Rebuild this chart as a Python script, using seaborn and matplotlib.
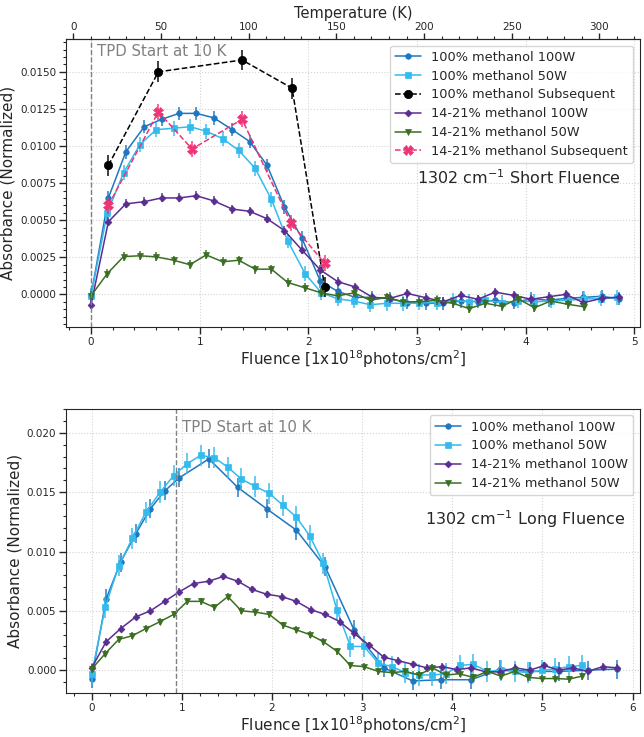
import numpy as np
import matplotlib
matplotlib.use("Agg")
import matplotlib.pyplot as plt
import seaborn as sns
from matplotlib.ticker import MultipleLocator, FixedLocator

# ---------------------------------------------------------------------------
# DATA
# ---------------------------------------------------------------------------
# fluence grids [1e18 photons/cm2]
fluence_100W = [0.00, 0.16, 0.32, 0.49, 0.65, 0.81, 0.97, 1.13, 1.30, 1.46,
                1.62, 1.78, 1.94, 2.11, 2.27, 2.43, 2.59, 2.75, 2.91, 3.08,
                3.24, 3.40, 3.56, 3.72, 3.89, 4.05, 4.21, 4.37, 4.53, 4.70,
                4.86, 5.02, 5.18, 5.34, 5.50, 5.67, 5.83]
fluence_50W = [0.00, 0.15, 0.30, 0.45, 0.60, 0.76, 0.91, 1.06, 1.21, 1.36,
               1.51, 1.66, 1.81, 1.97, 2.12, 2.27, 2.42, 2.57, 2.72, 2.87,
               3.02, 3.18, 3.33, 3.48, 3.63, 3.78, 3.93, 4.08, 4.23, 4.39,
               4.54, 4.69, 4.84, 4.99, 5.14, 5.29, 5.44]
fluence_long_100W = [0.00, 0.16, 0.32, 0.49, 0.65, 0.81, 0.97, 1.30, 1.62, 1.94,
                     2.27, 2.59, 2.91, 3.24, 3.56, 3.88, 4.21, 4.53, 4.86, 5.18,
                     5.50, 5.83]
temp_ticks = [0, 50, 100, 150, 200, 250, 300]

# --- short fluence ---
short_100_100W = [-0.0001, 0.0065, 0.0096, 0.0113, 0.0118, 0.0122, 0.0122, 0.0119,
                  0.0111, 0.0103, 0.0087, 0.0059, 0.0038, 0.0009, 0.0002, -0.0002,
                  -0.0002, -0.0003, -0.00055, -0.0006, -0.0006, -0.00045, -0.0005,
                  -0.0004, -0.00055, -0.0003, -0.0004, -0.00027, -0.0002, -0.00013,
                  -0.0003]
short_100_50W = [-0.0001, 0.0055, 0.0082, 0.0101, 0.0111, 0.0112, 0.0113, 0.0110,
                 0.0105, 0.0097, 0.0085, 0.0064, 0.0036, 0.0014, 0.0001, -0.0003,
                 -0.00045, -0.0007, -0.0006, -0.0006, -0.00058, -0.00055, -0.0004,
                 -0.0005, -0.0004, -0.00055, -0.00045, -0.0005, -0.00045, -0.0004,
                 -0.0003, -0.0003, -0.0002]
short_1421_100W = [-0.0007, 0.0049, 0.0061, 0.00625, 0.0065, 0.0065, 0.00665, 0.0063,
                   0.00575, 0.0056, 0.0051, 0.0043, 0.0030, 0.00165, 0.00086, 0.0005,
                   -0.0002, -0.00027, 0.00006, -0.00022, -0.0005, -0.00007, -0.00033,
                   0.00015, -0.00007, -0.00033, -0.00016, 0.0, -0.00056, -0.00027,
                   -0.00018]
short_1421_50W = [-0.0001, 0.0014, 0.00255, 0.0026, 0.00253, 0.0023, 0.0020, 0.00266,
                  0.0022, 0.0023, 0.0017, 0.0017, 0.0008, 0.00044, 0.0001, -0.0001,
                  0.0001, -0.0004, -0.0002, -0.0005, -0.0005, -0.0004, -0.0006,
                  -0.00096, -0.0006, -0.0008, -0.0003, -0.0009, -0.00045, -0.00067,
                  -0.00084]
subseq_100_x = [0.16, 0.62, 1.39, 1.85, 2.15]
subseq_100 = [0.0087, 0.0150, 0.0158, 0.0139, 0.0005]
subseq_1421_x = [0.16, 0.62, 0.93, 1.39, 1.84, 2.15]
subseq_1421 = [0.0060, 0.0123, 0.0098, 0.0118, 0.0048, 0.0021]

# --- long fluence ---
long_100_100W = [-0.0007, 0.0060, 0.0091, 0.0115, 0.0136, 0.0151, 0.0162, 0.0178,
                 0.0154, 0.0136, 0.0118, 0.0087, 0.0034, 0.0002, -0.0009, -0.0008,
                 -0.0008, 0.0001, -0.0001, -0.0001, 0.0, 0.0001]
long_100_50W = [-0.0003, 0.0053, 0.0088, 0.0111, 0.0133, 0.0150, 0.0164, 0.0174,
                0.0181, 0.0179, 0.0171, 0.0161, 0.0155, 0.0149, 0.0139, 0.0129,
                0.0113, 0.0090, 0.0051, 0.0020, 0.0020, 0.0006, 0.0003, -0.0002,
                -0.0004, -0.0004, -0.0003, 0.0004, 0.0005, -0.0001, 0.0, -0.0001,
                -0.0002, 0.0, 0.0001, 0.0003, 0.0004]
long_1421_100W = [0.0002, 0.0024, 0.0035, 0.0045, 0.0050, 0.0058, 0.0066, 0.0073,
                  0.0075, 0.0079, 0.0075, 0.0068, 0.0064, 0.0062, 0.0058, 0.0051,
                  0.0047, 0.0041, 0.0031, 0.0021, 0.0011, 0.0008, 0.0005, 0.0002,
                  0.0003, 0.00005, 0.0002, -0.00014, -0.00014, 0.0002, 0.0, 0.0004,
                  0.0, 0.0002, -0.0001, 0.0003, 0.0002]
long_1421_50W = [0.0001, 0.0014, 0.0026, 0.0029, 0.0035, 0.0041, 0.0047, 0.0058,
                 0.0058, 0.0053, 0.0062, 0.0050, 0.0049, 0.0047, 0.0038, 0.0034,
                 0.0030, 0.0024, 0.0016, 0.0004, 0.0003, -0.0001, -0.0002, -0.0001,
                 -0.0004, 0.0002, -0.0004, -0.0003, -0.0006, -0.0001, -0.0005,
                 -0.0001, -0.0006, -0.0007, -0.0007, -0.00075, -0.0005]

# typical 1-sigma uncertainties per series
err_short = {"100W": 0.00045, "50W": 0.0005, "sub100": 0.0007,
             "1421_100W": 0.0003, "1421_50W": 0.0003, "sub1421": 0.00055}
err_long = {"100W": 0.0008, "50W": 0.0009, "1421_100W": 0.0003, "1421_50W": 0.0003}

# ---------------------------------------------------------------------------
# STYLE
# ---------------------------------------------------------------------------
sns.set_style("ticks")
plt.rcParams['font.family'] = ['DejaVu Sans']

c_blue = "#1f77bf"
c_lblue = "#33bbee"
c_black = "#000000"
c_purple = "#5a2d91"
c_green = "#3b6e22"
c_pink = "#ee3377"


def draw(ax, x, y, err, color, marker, ms, ls, label):
    sns.lineplot(x=x, y=y, ax=ax, color=color, marker=marker, markersize=ms,
                 linestyle=ls, linewidth=1.1, label=label, sort=False,
                 markeredgecolor=color, markeredgewidth=0.5, errorbar=None)
    ax.errorbar(x, y, yerr=err, fmt='none', ecolor=color, elinewidth=1.4,
                alpha=0.75, capsize=0)


def style_axes(ax, ymajor, yminor):
    ax.xaxis.set_major_locator(MultipleLocator(1))
    ax.xaxis.set_minor_locator(MultipleLocator(0.2))
    ax.yaxis.set_major_locator(MultipleLocator(ymajor))
    ax.yaxis.set_minor_locator(MultipleLocator(yminor))
    ax.tick_params(which='major', length=5, width=1, labelsize=7.5, pad=2,
                   direction='out')
    ax.tick_params(which='minor', length=2.5, width=0.8, direction='out')
    ax.grid(True, which='major', color='#d4d4d4', linestyle=':', linewidth=0.8)
    ax.set_axisbelow(True)
    ax.set_xlabel(r"Fluence [1x10$^{18}$photons/cm$^{2}$]", fontsize=11, labelpad=1)
    ax.set_ylabel("Absorbance (Normalized)", fontsize=11, labelpad=3)


fig = plt.figure(figsize=(6.44, 7.37), dpi=100)
ax1 = fig.add_axes([0.1025, 0.5563, 0.891, 0.3905])
ax2 = fig.add_axes([0.1025, 0.0600, 0.891, 0.3850])

# ---------------------------------------------------------------------------
# SHORT FLUENCE
# ---------------------------------------------------------------------------
n = len(short_100_100W)
draw(ax1, fluence_100W[:n], short_100_100W, err_short["100W"], c_blue, 'o', 4, '-',
     "100% methanol 100W")
n = len(short_100_50W)
draw(ax1, fluence_50W[:n], short_100_50W, err_short["50W"], c_lblue, 's', 4, '-',
     "100% methanol 50W")
draw(ax1, subseq_100_x, subseq_100, err_short["sub100"], c_black, 'o', 6, '--',
     "100% methanol Subsequent")
n = len(short_1421_100W)
draw(ax1, fluence_100W[:n], short_1421_100W, err_short["1421_100W"], c_purple, 'D', 3.5, '-',
     "14-21% methanol 100W")
n = len(short_1421_50W)
draw(ax1, fluence_50W[:n], short_1421_50W, err_short["1421_50W"], c_green, 'v', 4, '-',
     "14-21% methanol 50W")
draw(ax1, subseq_1421_x, subseq_1421, err_short["sub1421"], c_pink, 'X', 7, '--',
     "14-21% methanol Subsequent")

ax1.axvline(0, color='grey', linestyle='--', linewidth=1)
ax1.set_xlim(-0.23, 5.05)
ax1.set_ylim(-0.0022, 0.0172)
style_axes(ax1, 0.0025, 0.0005)
ax1.text(0.055, 0.956, "TPD Start at 10 K", transform=ax1.get_xaxis_transform(),
         color='grey', fontsize=10.8, va='center', ha='left')
ax1.text(0.789, 0.519, r"1302 cm$^{-1}$ Short Fluence", transform=ax1.transAxes,
         fontsize=11.5, ha='center', va='center')
ax1.legend(loc='upper right', fontsize=9.3, numpoints=1, framealpha=0.8,
           borderpad=0.4, labelspacing=0.45, handlelength=2.0)

secax = ax1.secondary_xaxis('top', functions=(lambda f: 10 + 62.0 * f,
                                              lambda t: (t - 10) / 62.0))
secax.xaxis.set_major_locator(FixedLocator(temp_ticks))
secax.xaxis.set_minor_locator(MultipleLocator(10))
secax.tick_params(which='major', length=4.5, width=1, labelsize=7.5, pad=1)
secax.tick_params(which='minor', length=2.5, width=0.8)
secax.set_xlabel("Temperature (K)", fontsize=10.5, labelpad=2.5)

# ---------------------------------------------------------------------------
# LONG FLUENCE
# ---------------------------------------------------------------------------
draw(ax2, fluence_long_100W, long_100_100W, err_long["100W"], c_blue, 'o', 4, '-',
     "100% methanol 100W")
n = len(long_100_50W)
draw(ax2, fluence_50W[:n], long_100_50W, err_long["50W"], c_lblue, 's', 4, '-',
     "100% methanol 50W")
n = len(long_1421_100W)
draw(ax2, fluence_100W[:n], long_1421_100W, err_long["1421_100W"], c_purple, 'D', 3.5, '-',
     "14-21% methanol 100W")
n = len(long_1421_50W)
draw(ax2, fluence_50W[:n], long_1421_50W, err_long["1421_50W"], c_green, 'v', 4, '-',
     "14-21% methanol 50W")

ax2.axvline(0.93, color='grey', linestyle='--', linewidth=1)
ax2.set_xlim(-0.285, 6.08)
ax2.set_ylim(-0.0019, 0.0220)
style_axes(ax2, 0.005, 0.001)
ax2.text(1.0, 0.934, "TPD Start at 10 K", transform=ax2.get_xaxis_transform(),
         color='grey', fontsize=10.8, va='center', ha='left')
ax2.text(0.80, 0.613, r"1302 cm$^{-1}$ Long Fluence", transform=ax2.transAxes,
         fontsize=11.5, ha='center', va='center')
ax2.legend(loc='upper right', fontsize=9.3, numpoints=1, framealpha=0.8,
           borderpad=0.4, labelspacing=0.45, handlelength=2.0)

plt.savefig('out.png', dpi=100)
